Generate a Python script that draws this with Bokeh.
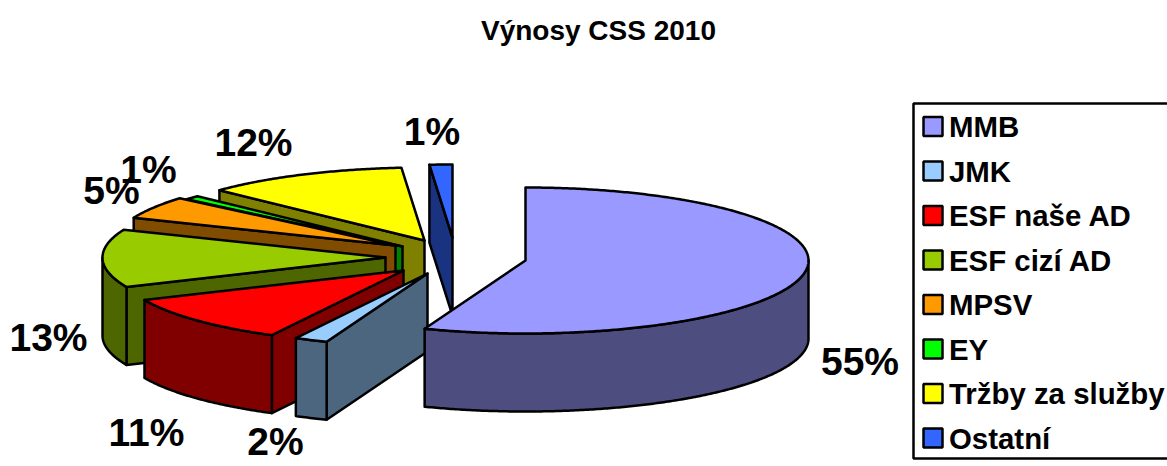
import numpy as np
from bokeh.plotting import figure
from bokeh.models import Range1d
from bokeh.core.properties import value
from bokeh.embed import file_html
from bokeh.resources import INLINE

# ---- data ----
categories = ["MMB", "JMK", "ESF naše AD", "ESF cizí AD", "MPSV", "EY", "Tržby za služby", "Ostatní"]
shares = [55.8, 1.9, 10.7, 12.8, 5.0, 0.9, 11.6, 1.3]
share_labels = ["55%", "2%", "11%", "13%", "5%", "1%", "12%", "1%"]
title = "Výnosy CSS 2010"

# ---- styles and layout (pixels) ----
top_colors = ["#9999FF", "#99CCFF", "#FF0000", "#99CC00", "#FF9900", "#00FF00", "#FFFF00", "#3366FF"]
side_colors = ["#4D4D80", "#4D6680", "#800000", "#4D6600", "#804D00", "#008000", "#808000", "#1A3380"]
apex_x = [525, 427, 403, 385, 395, 402, 424, 452]
apex_y = [260, 273, 270, 257, 245, 246, 240, 237]
label_x = [859.5, 275, 146, 48, 111, 148, 253, 431.5]
label_y = [361, 441, 432, 337, 190, 169, 142, 131]
draw_order = [7, 6, 5, 4, 3, 2, 1, 0]
RX, RY, DEPTH = 283, 73, 78
W, H = 1167, 466
FONT = value("Liberation Sans")

p = figure(width=W, height=H, x_range=Range1d(0, W), y_range=Range1d(H, 0),
           output_backend="svg", toolbar_location=None, min_border=0,
           margin=(0, 0, 0, 0))
p.axis.visible = False
p.grid.visible = False
p.outline_line_color = None

ends = np.cumsum(shares) / np.sum(shares) * 360.0
starts = np.concatenate([[0.0], ends[:-1]])


def rim(cx, cy, a0, a1):
    n = max(2, int(abs(a1 - a0) * 2) + 1)
    t = np.radians(np.linspace(a0, a1, n))
    return cx + RX * np.sin(t), cy - RY * np.cos(t)


def draw(xs, ys, color):
    p.patch(list(xs), list(ys), fill_color=color, line_color="black",
            line_width=2.5, line_join="round")


for i in draw_order:
    cx, cy = apex_x[i], apex_y[i]
    a0, a1 = starts[i], ends[i]
    side = side_colors[i]
    # radial face on the near side of the cut
    if np.sin(np.radians(a0)) < -1e-6:
        ox, oy = rim(cx, cy, a0, a0)
        draw([ox[0], cx, cx, ox[0]], [oy[0], cy, cy + DEPTH, oy[0] + DEPTH], side)
    # outer wall, front half of the rim only
    f0, f1 = max(a0, 90.0), min(a1, 270.0)
    if f1 > f0:
        ox, oy = rim(cx, cy, f0, f1)
        draw(np.concatenate([ox, ox[::-1]]), np.concatenate([oy, oy[::-1] + DEPTH]), side)
    # top face
    ox, oy = rim(cx, cy, a0, a1)
    draw(np.concatenate([[cx], ox]), np.concatenate([[cy], oy]), top_colors[i])

# percentage labels
p.text(label_x, label_y, text=share_labels, text_font=FONT,
       text_font_style="bold", text_font_size="39px", text_color="black",
       text_align="center", text_baseline="middle")

# title
p.text([598], [30], text=[title], text_font=FONT, text_font_style="bold",
       text_font_size="28px", text_color="black", text_align="center", text_baseline="middle")

# legend
p.quad(left=[913], right=[1180], top=[103], bottom=[458], fill_color="white",
       line_color="black", line_width=2.5)
rows = [126 + k * 44.5 for k in range(len(categories))]
p.quad(left=[923] * 8, right=[942] * 8, top=[r - 9.5 for r in rows], bottom=[r + 9.5 for r in rows],
       fill_color=top_colors, line_color="black", line_width=2.5)
p.text([948.5] * 8, rows, text=categories, text_font=FONT, text_font_style="bold",
       text_font_size="29.4px", text_color="black", text_align="left", text_baseline="middle")

open("out.html", "w").write(file_html(p, INLINE))
